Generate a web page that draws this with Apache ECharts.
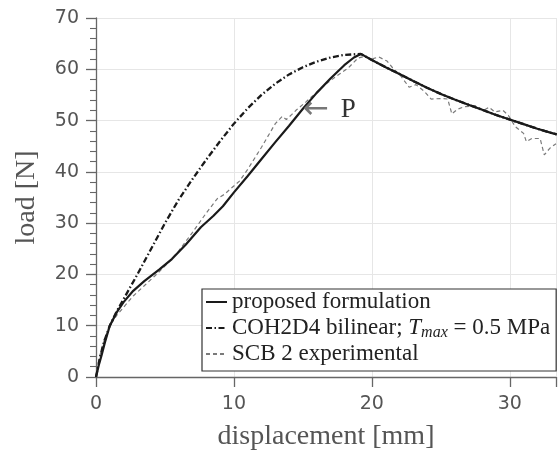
<!DOCTYPE html>
<html>
<head>
<meta charset="utf-8">
<script src="https://cdn.jsdelivr.net/npm/echarts@6/dist/echarts.min.js"></script>
<style>html,body{margin:0;padding:0;background:#fff}#c{width:559px;height:456px}</style>
</head>
<body>
<div id="c"></div>
<script>
// ---- data ----
var xTicks = [0, 10, 20, 30];
var yTicks = [0, 10, 20, 30, 40, 50, 60, 70];

var propX = [0,0.2,0.4,0.65,1,1.5,2,2.7,3.5,4.6,5.5,6.5,7.6,8.5,9.2,10,11,12,13,14,15,16,17,18,18.7,19.2,20,21,22,23,24,25,26,27,28,29,30,31,32,33,33.4];
var propY = [0,2.3,4.2,6.8,10,12.6,14.6,16.8,18.7,21,23,25.8,29.2,31.4,33.3,36,39.2,42.5,45.8,49,52.3,55.4,58.2,60.8,62.3,63,61.8,60.4,59.1,57.7,56.4,55.2,54.1,53.1,52.1,51.1,50.2,49.3,48.4,47.6,47.3];

var cohX = [0,0.3,0.6,1,1.5,2,3,4,5,6,7,8,9,10,11,12,13,14,15,16,17,18,19.2,20,21,22,23,24,25,26,27,28,29,30,31,32,33,33.4];
var cohY = [0,4,7,10,12.8,15.2,20,25,30,34.6,38.6,42.4,46,49.4,52.4,55,57.2,59,60.4,61.5,62.3,62.8,63,61.8,60.4,59.1,57.7,56.4,55.2,54.1,53.1,52.1,51.1,50.2,49.3,48.4,47.6,47.3];

var expX = [0,0.2,0.4,0.7,1,1.5,2,2.7,3.5,4.3,5.1,6,7,8,8.8,9.3,9.8,10.4,11,12,13,13.5,13.8,14.2,14.5,15.2,16,16.8,17.5,18.3,19,19.5,20,20.5,21.1,21.5,22.1,22.7,23.2,23.8,24.3,25,25.5,25.8,26.2,26.7,27.5,28.1,28.5,28.9,29.5,29.9,30.4,31,31.2,31.6,32.2,32.5,32.9,33.35];
var expY = [0,3.2,5.5,8,10,12,13.6,15.8,17.8,19.8,21.9,24.6,28.2,32,34.8,35.6,36.8,38.2,40.5,44.8,49.4,50.8,50.2,51.2,52,53.6,55.5,57.4,58.8,60.3,62.2,62.5,62,62.4,61.6,60.3,58.7,56.5,57,55.7,54.2,54.3,54.2,51.3,52.2,52.7,52.9,52,52.6,51.7,52,51,48.8,47.5,45.9,46.5,46.5,43.3,44.6,45.5];

var seriesNames = ['proposed formulation', 'COH2D4 bilinear; Tmax = 0.5 MPa', 'SCB 2 experimental'];
var annotation = { x: 15.0, y: 52.7, arrow: '\u2190', text: 'P' };

function pairs(xs, ys) { return xs.map(function (x, i) { return [x, ys[i]]; }); }

var SERIF = '"Liberation Serif", "DejaVu Serif", serif';
var SANS = '"DejaVu Sans", sans-serif';
var axisGray = '#666';

var chart = echarts.init(document.getElementById('c'), null, { renderer: 'canvas' });
chart.setOption({
  animation: false,
  backgroundColor: '#fff',
  grid: { left: 96, right: 0, top: 18, bottom: 74 },
  xAxis: {
    type: 'value', min: 0, max: 33.35, interval: 10,
    name: 'displacement [mm]', nameLocation: 'middle', nameGap: 46,
    nameTextStyle: { fontFamily: SERIF, fontSize: 28, color: '#555' },
    axisLine: { show: true, lineStyle: { color: axisGray, width: 1.3 } },
    axisTick: { show: true, inside: false, length: 10, lineStyle: { color: axisGray, width: 1.3 } },
    axisLabel: {
      fontFamily: SANS, fontSize: 19, color: '#555', margin: 18,
      formatter: function (v) { return xTicks.indexOf(v) >= 0 ? String(v) : ''; }
    },
    splitLine: { show: true, lineStyle: { color: '#e6e6e6', width: 1 } }
  },
  yAxis: {
    type: 'value', min: 0, max: 70, interval: 10,
    name: 'load [N]', nameLocation: 'middle', nameGap: 55, nameRotate: 90,
    nameTextStyle: { fontFamily: SERIF, fontSize: 28, color: '#555' },
    axisLine: { show: true, lineStyle: { color: axisGray, width: 1.3 } },
    axisTick: { show: true, inside: false, length: 10, lineStyle: { color: axisGray, width: 1.3 } },
    minorTick: { show: true, splitNumber: 5, length: 6, lineStyle: { color: axisGray, width: 1.1 } },
    axisLabel: {
      fontFamily: SANS, fontSize: 19, color: '#555', margin: 17,
      formatter: function (v) { return yTicks.indexOf(v) >= 0 ? String(v) : ''; }
    },
    splitLine: { show: true, lineStyle: { color: '#e6e6e6', width: 1 } }
  },
  legend: {
    show: true, orient: 'vertical', left: 202, top: 289,
    padding: [0, 6, 4, 3], itemGap: 0, itemWidth: 21, itemHeight: 14,
    borderColor: '#333', borderWidth: 1.2, backgroundColor: '#fff',
    data: seriesNames,
    itemStyle: { opacity: 0, borderWidth: 0 },
    textStyle: {
      fontFamily: SERIF, fontSize: 23, color: '#222', lineHeight: 26,
      rich: {
        r: { fontFamily: SERIF, fontSize: 23, color: '#222', lineHeight: 26 },
        i: { fontFamily: SERIF, fontSize: 23, fontStyle: 'italic', color: '#222', lineHeight: 26 },
        s: { fontFamily: SERIF, fontSize: 16, fontStyle: 'italic', color: '#222', lineHeight: 26, verticalAlign: 'top', padding: [10, 0, 0, 0] }
      }
    },
    formatter: function (name) {
      if (name === seriesNames[1]) {
        return '{r|COH2D4 bilinear; }{i|T}{s|max}{r| = 0.5 MPa}';
      }
      return name;
    }
  },
  series: [
    {
      name: seriesNames[0], type: 'line', data: pairs(propX, propY),
      showSymbol: false, symbol: 'none', smooth: false, z: 4,
      lineStyle: { color: '#1a1a1a', width: 2.2, type: 'solid' },
      itemStyle: { color: '#1a1a1a' }
    },
    {
      name: seriesNames[1], type: 'line', data: pairs(cohX, cohY),
      showSymbol: false, symbol: 'none', z: 3,
      lineStyle: { color: '#1a1a1a', width: 2.3, type: [6, 2.5, 1.5, 2.5] },
      itemStyle: { color: '#1a1a1a' }
    },
    {
      name: seriesNames[2], type: 'line', data: pairs(expX, expY),
      showSymbol: false, symbol: 'none', z: 2,
      lineStyle: { color: '#7a7a7a', width: 1.2, type: [4, 3] },
      itemStyle: { color: '#7a7a7a' },
      markPoint: {
        symbol: 'circle', symbolSize: 0, silent: true,
        itemStyle: { color: 'rgba(0,0,0,0)' },
        label: {
          show: true, position: 'right', distance: 0, offset: [0, 3],
          formatter: function () { return '{a|' + annotation.arrow + '}{p|' + annotation.text + '}'; },
          rich: {
            a: { fontFamily: SANS, fontSize: 31, color: '#777', lineHeight: 28 },
            p: { fontFamily: SERIF, fontSize: 27, color: '#333', lineHeight: 28, padding: [0, 0, 0, 12] }
          }
        },
        data: [{ coord: [annotation.x, annotation.y] }]
      }
    }
  ]
});
</script>
</body>
</html>
